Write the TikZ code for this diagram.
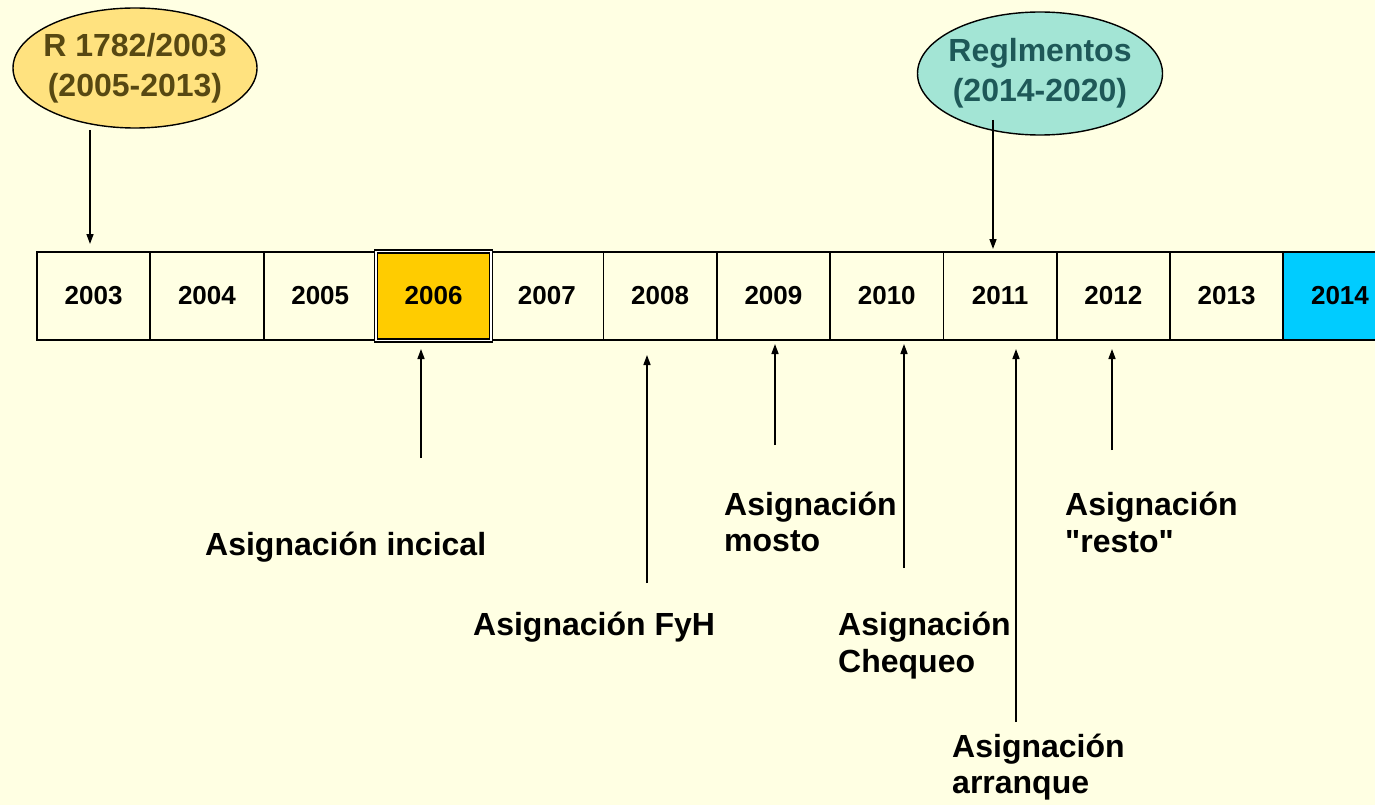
\documentclass[tikz,border=0pt]{standalone}
\usepackage{fontspec}
\setmainfont{Liberation Sans}
\newfontfamily\af{Liberation Sans}
\usetikzlibrary{arrows.meta,shapes.geometric}
\definecolor{bg}{HTML}{FFFFE3}
\definecolor{ellA}{HTML}{FFE27F}
\definecolor{txtA}{HTML}{574812}
\definecolor{ellB}{HTML}{A3E5D5}
\definecolor{txtB}{HTML}{1E5858}
\definecolor{gold}{HTML}{FFCC00}
\definecolor{sky}{HTML}{00CCFF}
\begin{document}
\begin{tikzpicture}[x=1pt,y=-1pt,
  year/.style={draw,line width=1.8pt,minimum width=113.3pt,minimum height=88pt,inner sep=0pt,font=\af\fontsize{26}{30}\selectfont\bfseries},
  plainyear/.style={year},
  hiA/.style={year,fill=gold,double,double distance=1.6pt,line width=1.6pt,minimum width=115pt,minimum height=89pt},
  hiB/.style={year,fill=sky},
  ell/.style={draw,line width=1.4pt,ellipse,inner sep=0pt},
  elltext/.style={inner sep=0pt,align=center,font=\af\fontsize{32}{40}\selectfont\bfseries},
  lab/.style={font=\af\fontsize{32}{37}\selectfont\bfseries,inner sep=0pt,anchor=base west},
  arr/.style={line width=1.5pt,-{Triangle[length=10pt,width=7pt]}}]
\fill[bg] (0,0) rectangle (1375,805);
\useasboundingbox (0,0) rectangle (1375,805);
\begin{scope}
\clip (0,0) rectangle (1375,805);
\foreach \y/\s in {2003/plainyear,2004/plainyear,2005/plainyear,2007/plainyear,2008/plainyear,2009/plainyear,2010/plainyear,2011/plainyear,2012/plainyear,2013/plainyear,2014/hiB,2006/hiA}{
  \pgfmathsetmacro{\k}{\y-2003}
  \node[\s] (y\y) at ({37+56.65+113.3*\k},296) {\y};
}
\end{scope}
\node[ell,fill=ellA,minimum width=244pt,minimum height=120pt] (eA) at (135,68) {};
\node[elltext,text=txtA] (tA) at (eA.center) {R 1782/2003\\(2005-2013)};
\node[ell,fill=ellB,minimum width=245pt,minimum height=123pt] (eB) at (1040,73.5) {};
\node[elltext,text=txtB] (tB) at (eB.center) {Reglmentos\\(2014-2020)};
\coordinate (a1) at (90,130);
\coordinate (a1e) at (90,244);
\draw[arr] (a1) -- (a1e);
\coordinate (b1) at (993,120);
\coordinate (b1e) at (993,249);
\draw[arr] (b1) -- (b1e);
% labels
\node[lab] (l1) at (205,555) {Asignación incical};
\node[lab] (l2) at (473,635) {Asignación FyH};
\node[lab] (l3) at (724,515) {Asignación};
\node[lab] (l3b) at (724,551) {mosto};
\node[lab] (l4) at (838,635) {Asignación};
\node[lab] (l4b) at (838,672) {Chequeo};
\node[lab] (l5) at (952,757) {Asignación};
\node[lab] (l5b) at (952,793) {arranque};
\node[lab] (l6) at (1065,515) {Asignación};
\node[lab] (l6b) at (1065,552) {"resto"};
\coordinate (s1) at (421,458); \coordinate (t1) at (421,349);
\coordinate (s2) at (647,583); \coordinate (t2) at (647,355);
\coordinate (s3) at (775,445); \coordinate (t3) at (775,344);
\coordinate (s4) at (904,568); \coordinate (t4) at (904,344);
\coordinate (s5) at (1016,722); \coordinate (t5) at (1016,349);
\coordinate (s6) at (1112,450); \coordinate (t6) at (1112,349);
\foreach \i in {1,...,6}{\draw[arr] (s\i) -- (t\i);}
\end{tikzpicture}
\end{document}
